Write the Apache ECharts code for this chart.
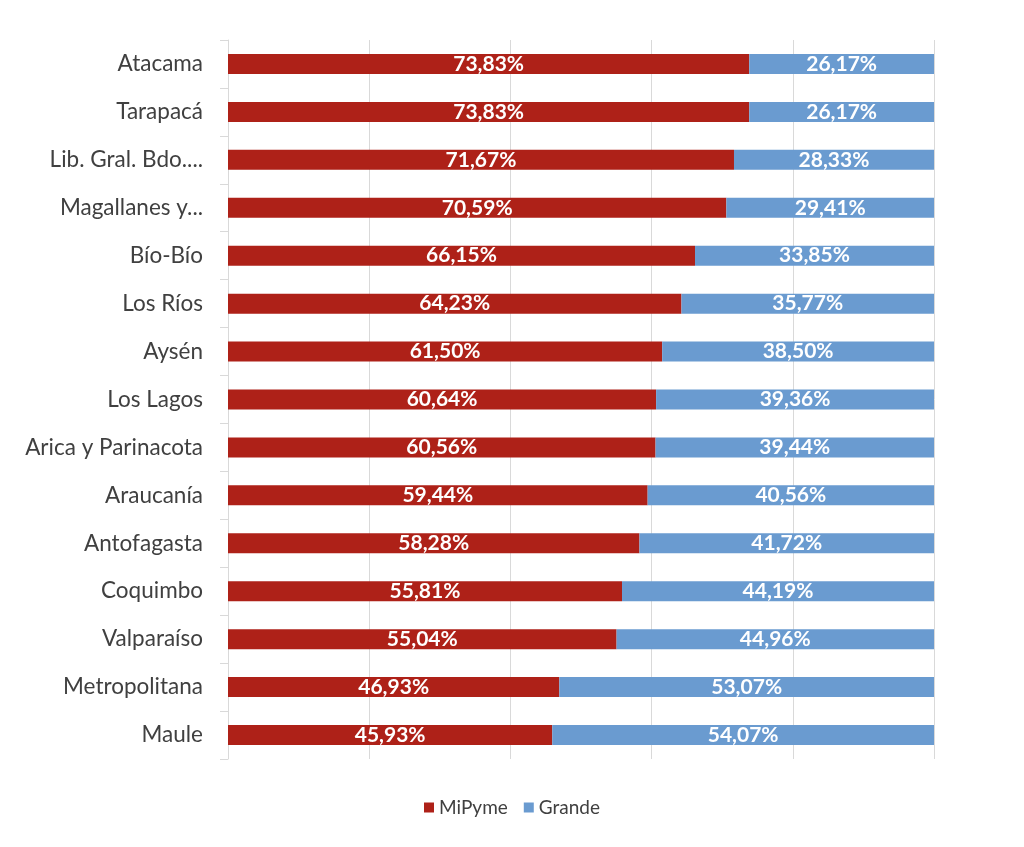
<!DOCTYPE html>
<html>
<head>
<meta charset="utf-8">
<script src="https://cdn.jsdelivr.net/npm/echarts@6/dist/echarts.min.js"></script>
<style>
  html, body { margin: 0; padding: 0; background: #fff; }
  #main { width: 1024px; height: 847px; }
</style>
</head>
<body>
<div id="main"></div>
<script>
// regiones, de arriba hacia abajo
const regiones = ["Atacama", "Tarapacá", "Lib. Gral. Bdo....", "Magallanes y...", "Bío-Bío", "Los Ríos",
  "Aysén", "Los Lagos", "Arica y Parinacota", "Araucanía", "Antofagasta", "Coquimbo",
  "Valparaíso", "Metropolitana", "Maule"];
const mipyme = [73.83, 73.83, 71.67, 70.59, 66.15, 64.23, 61.50, 60.64, 60.56, 59.44, 58.28, 55.81, 55.04, 46.93, 45.93];
const grande = [26.17, 26.17, 28.33, 29.41, 33.85, 35.77, 38.50, 39.36, 39.44, 40.56, 41.72, 44.19, 44.96, 53.07, 54.07];

var myChart = echarts.init(document.querySelector("#main"));

function pct(p) {
	return p.value.toFixed(2).replace(".", ",") + "%";
}

var labelStyle = {
	show: true,
	position: "inside",
	color: "#fff",
	fontFamily: "Lato",
	fontWeight: "bold",
	fontSize: 21,
	formatter: pct
};

var option = {
	animation: false,
	textStyle: { fontFamily: "Lato" },
	grid: { left: 228, right: 90, top: 40, bottom: 88, containLabel: false },
	legend: {
		bottom: 25,
		left: "center",
		icon: "rect",
		itemWidth: 10,
		itemHeight: 10,
		itemGap: 16,
		itemTextGap: 4,
		textStyle: { color: "#404040", fontSize: 19, fontFamily: "Lato" },
		data: ["MiPyme", "Grande"]
	},
	xAxis: {
		type: "value",
		min: 0,
		max: 100,
		interval: 20,
		axisLabel: { show: false },
		axisLine: { show: false },
		axisTick: { show: false },
		splitLine: { show: true, lineStyle: { color: "#d9d9d9", width: 1 } }
	},
	yAxis: {
		type: "category",
		inverse: true,
		data: regiones,
		axisLine: { show: true, lineStyle: { color: "#d9d9d9" } },
		axisTick: { show: true, length: 8, lineStyle: { color: "#d9d9d9" } },
		axisLabel: { color: "#404040", fontSize: 22.5, margin: 25, fontFamily: "Lato" }
	},
	series: [
		{
			name: "MiPyme",
			type: "bar",
			stack: "total",
			barWidth: 20,
			itemStyle: { color: "#AE2118" },
			label: labelStyle,
			data: mipyme
		},
		{
			name: "Grande",
			type: "bar",
			stack: "total",
			barWidth: 20,
			itemStyle: { color: "#6A9BD0" },
			label: labelStyle,
			data: grande
		}
	]
};
myChart.setOption(option);
</script>
</body>
</html>
